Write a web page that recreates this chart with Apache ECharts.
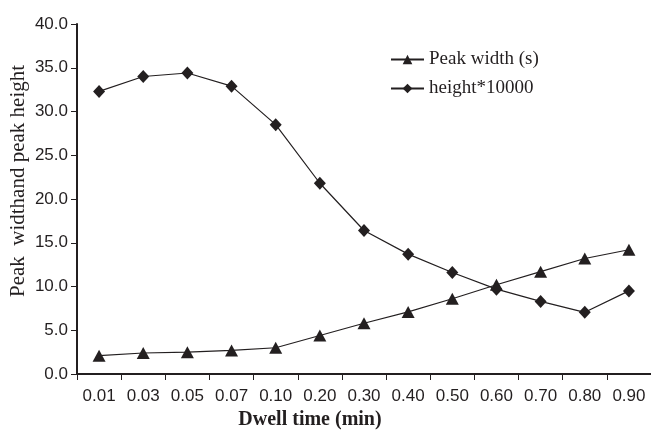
<!DOCTYPE html>
<html>
<head>
<meta charset="utf-8">
<script src="https://cdn.jsdelivr.net/npm/echarts@6/dist/echarts.min.js"></script>
<style>html,body{margin:0;padding:0;background:#fff}#c{width:651px;height:435px}</style>
</head>
<body>
<div id="c"></div>
<script>
var categories = ['0.01','0.03','0.05','0.07','0.10','0.20','0.30','0.40','0.50','0.60','0.70','0.80','0.90'];
var peakWidth = [2.1, 2.4, 2.5, 2.7, 3.0, 4.4, 5.8, 7.1, 8.6, 10.2, 11.7, 13.2, 14.2];
var heightX10000 = [32.3, 34.0, 34.4, 32.9, 28.5, 21.8, 16.4, 13.7, 11.6, 9.7, 8.3, 7.05, 9.5];
var yTitle = 'Peak  widthand peak height';
var xTitle = 'Dwell time (min)';

var ink = '#231f20';
var chart = echarts.init(document.getElementById('c'), null, {renderer: 'canvas'});
chart.setOption({
  animation: false,
  backgroundColor: '#fff',
  grid: {left: 77, right: 0, top: 24, bottom: 61, containLabel: false},
  legend: {
    orient: 'vertical',
    left: 385, top: 45,
    itemWidth: 33, itemHeight: 12, itemGap: 10,
    textStyle: {fontFamily: 'Liberation Serif', fontSize: 19, color: ink},
    data: [{name: 'Peak width (s)'}, {name: 'height*10000'}]
  },
  xAxis: {
    type: 'category',
    data: categories,
    boundaryGap: true,
    axisLine: {lineStyle: {color: ink, width: 2}},
    axisTick: {show: true, inside: false, length: 6, alignWithLabel: false, lineStyle: {color: ink, width: 1}},
    axisLabel: {fontFamily: 'Liberation Sans', fontSize: 17, color: ink, margin: 14, interval: 0},
    splitLine: {show: false}
  },
  yAxis: {
    type: 'value',
    min: 0, max: 40, interval: 5,
    axisLine: {show: true, lineStyle: {color: ink, width: 2}},
    axisTick: {show: true, inside: false, length: 6, lineStyle: {color: ink, width: 1}},
    axisLabel: {fontFamily: 'Liberation Sans', fontSize: 17, color: ink, margin: 9,
      formatter: function (v) { return v.toFixed(1); }},
    splitLine: {show: false}
  },
  graphic: [
    {type: 'text', x: 18, y: 181, rotation: Math.PI / 2,
     style: {text: yTitle, fontFamily: 'Liberation Serif', fontSize: 21, fill: ink, align: 'center', verticalAlign: 'middle'}},
    {type: 'text', x: 310, y: 420,
     style: {text: xTitle, fontFamily: 'Liberation Serif', fontWeight: 'bold', fontSize: 20, fill: ink, align: 'center', verticalAlign: 'middle'}}
  ],
  series: [
    {name: 'Peak width (s)', type: 'line', data: peakWidth,
     symbol: 'triangle', symbolSize: [13, 12], showAllSymbol: true,
     lineStyle: {color: ink, width: 1.2}, itemStyle: {color: ink, borderWidth: 0}},
    {name: 'height*10000', type: 'line', data: heightX10000,
     symbol: 'diamond', symbolSize: [12, 13], showAllSymbol: true,
     lineStyle: {color: ink, width: 1.2}, itemStyle: {color: ink, borderWidth: 0}}
  ]
});
</script>
</body>
</html>
